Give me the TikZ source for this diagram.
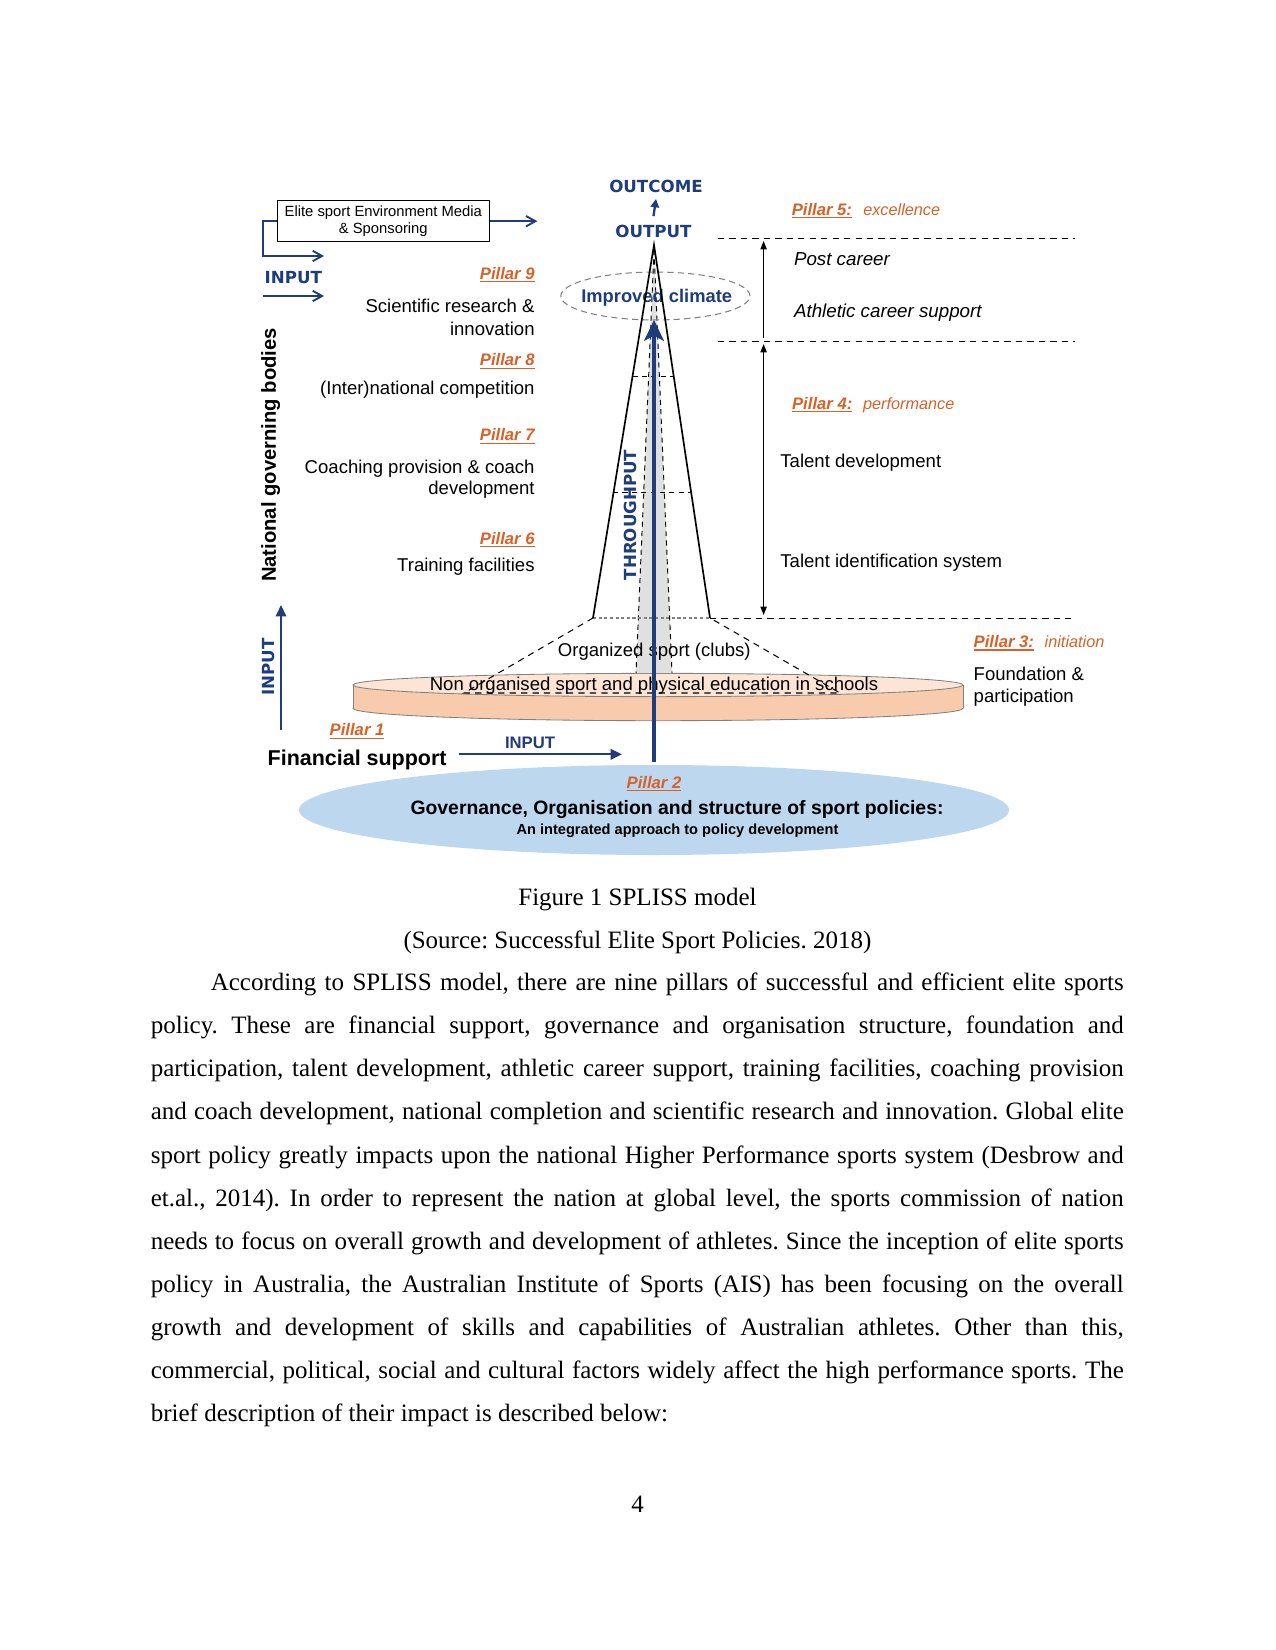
\documentclass[tikz,border=0pt]{standalone}
\usepackage{fontspec}
\setmainfont{Liberation Serif}
\newfontfamily\lsans{Liberation Sans}
\newfontfamily\dvs{DejaVu Sans}
\usetikzlibrary{arrows.meta}
\frenchspacing

\definecolor{navy}{RGB}{31,61,122}
\definecolor{pillarorange}{RGB}{214,98,42}
\definecolor{diskside}{RGB}{248,203,172}
\definecolor{disktop}{RGB}{252,229,212}
\definecolor{govblue}{RGB}{189,215,238}
\definecolor{conegrey}{RGB}{224,224,224}

\newcommand\pul[1]{\setbox0=\hbox{#1}\rlap{\rule[-1.6pt]{\wd0}{0.75pt}}\box0}

\tikzset{
  txt/.style={inner sep=0pt, yshift=-1.2pt, font=\lsans\fontsize{8.9}{10.7}\selectfont},
  txtit/.style={inner sep=0pt, yshift=-1.2pt, font=\lsans\itshape\fontsize{9}{10.8}\selectfont},
  pill/.style={inner sep=0pt, yshift=-0.5pt, text=pillarorange, font=\lsans\bfseries\itshape\fontsize{8}{9.6}\selectfont},
  pilld/.style={inner sep=0pt, yshift=-0.5pt, text=pillarorange, font=\lsans\itshape\fontsize{7.8}{9.4}\selectfont},
  bcap/.style={inner sep=0pt, text=navy, font=\dvs\bfseries\fontsize{8}{9.6}\selectfont},
  bodyline/.style={inner sep=0pt, anchor=base west, font=\fontsize{12}{14}\selectfont},
  centerline/.style={inner sep=0pt, anchor=base, font=\fontsize{12}{14}\selectfont},
  barrow/.style={navy, line width=0.9pt, -{Straight Barb[length=4.5pt,width=5pt]}},
  farrow/.style={navy, line width=1.1pt, -{Triangle[length=5.5pt,width=5pt]}},
  karrow/.style={line width=0.6pt, -{Triangle[length=4pt,width=3pt]}},
  kdarrow/.style={line width=0.6pt, {Triangle[length=4pt,width=3pt]}-{Triangle[length=4pt,width=3pt]}},
  dashline/.style={dash pattern=on 3pt off 2.5pt, line width=0.5pt},
}

\begin{document}
\begin{tikzpicture}[x=0.48pt,y=-0.48pt]
\fill[white] (0,0) rectangle (1275,1650);
\useasboundingbox (0,0) rectangle (1275,1650);

% ---------- governance ellipse (pillar 2)
\fill[govblue] (654,810) ellipse [x radius=170.4pt, y radius=21.6pt];

% ---------- foundation disk
\draw[gray, line width=0.4pt, fill=diskside] (658,708.3) ellipse [x radius=146.4pt, y radius=5.95pt];
\fill[diskside] (353,685) rectangle (963,708.3);
\draw[gray, line width=0.4pt] (353,685) -- (353,708.3) (963,685) -- (963,708.3);
\draw[gray, line width=0.4pt, fill=disktop] (658,685) ellipse [x radius=146.4pt, y radius=5.6pt];

% ---------- inner grey cone
\coordinate (apex) at (654,245);
\coordinate (iapex) at (654,250);
\coordinate (ibl) at (636,673);
\coordinate (ibr) at (672,673);
\fill[conegrey] (iapex) -- (ibl) -- (ibr) -- cycle;
\draw[dash pattern=on 2.5pt off 2pt, line width=0.45pt] (iapex) -- (ibl) (iapex) -- (ibr);

% ---------- cone base, trapezoid (organized sport)
\coordinate (cbl) at (593,618);
\coordinate (cbr) at (710,618);
\coordinate (tbl) at (464,693);
\coordinate (tbr) at (840,693);
\coordinate (r3) at (1075,618);
\draw[dashline] (cbl) -- (tbl) -- (tbr) -- (cbr);
\draw[gray, dash pattern=on 1.5pt off 1.2pt, line width=0.5pt] (cbl) -- (cbr);
\draw[dash pattern=on 3pt off 2.5pt, line width=0.45pt] (cbr) -- (r3);

% ---------- improved climate ellipse
\draw[gray, dash pattern=on 3pt off 2pt, line width=0.5pt] (655.4,296) ellipse [x radius=45.4pt, y radius=11.5pt];
\node[inner sep=0pt, text=navy, font=\lsans\bfseries\fontsize{8.8}{10}\selectfont] (clim) at (656.7,298) {Improved climate};

% ---------- outer cone
\draw[line width=0.8pt] (cbl) -- (apex) -- (cbr);
\coordinate (c1l) at (632.5,376.7); \coordinate (c1r) at (673.8,376.7);
\coordinate (c2l) at (613,492.7);   \coordinate (c2r) at (691,492.7);
\draw[dash pattern=on 2.5pt off 2pt, line width=0.45pt] (c1l) -- (c1r) (c2l) -- (c2r);

% ---------- right levels
\coordinate (r1a) at (718,238.3); \coordinate (r1b) at (1075,238.3);
\coordinate (r2a) at (718,341.5); \coordinate (r2b) at (1075,341.5);
\draw[dashline] (r1a) -- (r1b);
\draw[dashline] (r2a) -- (r2b);
\coordinate (va1) at (763.6,338); \coordinate (va2) at (763.6,241);
\coordinate (vb1) at (763.6,344); \coordinate (vb2) at (763.6,615);
\draw[karrow] (va1) -- (va2);
\draw[kdarrow] (vb1) -- (vb2);

% ---------- outcome / output
\node[bcap] (outc) at (656,186) {OUTCOME};
\node[bcap] (out) at (653.5,231) {OUTPUT};
\draw[navy, line width=1.1pt, -{Triangle[length=4pt,width=4pt]}] ([yshift=3.9pt]out.north) -- ([yshift=-3pt]outc.south);

% ---------- top-left box and input arrows
\node[draw, line width=0.5pt, minimum width=101.8pt, minimum height=19.7pt, inner sep=0pt, align=center,
      font=\lsans\fontsize{7.1}{8.6}\selectfont] (elite) at (383.3,221.2) {Elite sport Environment Media\\\& Sponsoring};
\coordinate (eliteout) at (537.3,221.2);
\coordinate (brk) at (263.3,221.2);
\coordinate (inarr1) at (324,256);
\draw[barrow] (elite.east) -- (eliteout);
\draw[barrow] (elite.west) -- (brk) |- (inarr1);
\node[bcap] (input1) at (293.3,277.3) {INPUT};
\coordinate (in2s) at (263.3,296); \coordinate (in2e) at (324,296);
\draw[barrow] (in2s) -- (in2e);

% ---------- left vertical labels
\node[rotate=90, inner sep=0pt, font=\lsans\bfseries\fontsize{9.7}{11}\selectfont] (ngb) at (270.7,455) {National governing bodies};
\coordinate (vin1) at (281,730); \coordinate (vin2) at (281,605);
\draw[farrow] (vin1) -- (vin2);
\node[bcap, rotate=90] (input2) at (268.3,667) {INPUT};

% ---------- left pillars
\node[pill, anchor=mid east] (p9) at (535,273.3) {\pul{Pillar 9}};
\node[txt, anchor=mid east] (p9a) at (535,305.7) {Scientific research \&};
\node[txt, anchor=mid east] (p9b) at (535,328.3) {innovation};
\node[pill, anchor=mid east] (p8) at (535,360) {\pul{Pillar 8}};
\node[txt, anchor=mid east] (p8a) at (535,387.7) {(Inter)national competition};
\node[pill, anchor=mid east] (p7) at (535,435) {\pul{Pillar 7}};
\node[txt, anchor=mid east] (p7a) at (535,466) {Coaching provision \& coach};
\node[txt, anchor=mid east] (p7b) at (535,487) {development};
\node[pill, anchor=mid east] (p6) at (535,538.3) {\pul{Pillar 6}};
\node[txt, anchor=mid east] (p6a) at (535,564) {Training facilities};

% ---------- right pillars
\node[pill, anchor=mid west] (p5) at (791.4,209.3) {\pul{Pillar 5:}};
\node[pilld, anchor=mid west] (p5d) at (862.9,209.3) {excellence};
\node[txtit, anchor=mid west] (p5a) at (793.6,258.3) {Post career};
\node[txtit, anchor=mid west] (p5b) at (793.6,310) {Athletic career support};
\node[pill, anchor=mid west] (p4) at (791.7,403.3) {\pul{Pillar 4:}};
\node[pilld, anchor=mid west] (p4d) at (862.7,403.3) {performance};
\node[txt, anchor=mid west] (p4a) at (780,460) {Talent development};
\node[txt, anchor=mid west] (p4b) at (780,560) {Talent identification system};
\node[pill, anchor=mid west] (p3) at (973.3,641.7) {\pul{Pillar 3:}};
\node[pilld, anchor=mid west] (p3d) at (1044.3,641.7) {initiation};
\node[txt, anchor=mid west] (p3a) at (973.3,673.3) {Foundation \&};
\node[txt, anchor=mid west] (p3b) at (973.3,695) {participation};

% ---------- base texts
\node[txt] (org) at (654.3,649.3) {Organized sport (clubs)};
\node[txt] (nonorg) at (654,683.3) {Non organised sport and physical education in schools};
\node[bcap, rotate=90] (thr) at (630.7,515) {THROUGHPUT};

% ---------- pillar 1
\node[pill, anchor=mid west] (p1) at (329.3,730) {\pul{Pillar 1}};
\node[inner sep=0pt, anchor=mid west, font=\lsans\bfseries\fontsize{10.3}{12}\selectfont] (fin) at (267.3,760.5) {Financial support};
\node[inner sep=0pt, text=navy, font=\lsans\bfseries\fontsize{8}{9.6}\selectfont] (input3) at (530,742.5) {INPUT};
\coordinate (hin1) at (459,754.3); \coordinate (hin2) at (622,754.3);
\draw[farrow] (hin1) -- (hin2);

% ---------- pillar 2 texts
\node[pill] (p2) at (654,782.7) {\pul{Pillar 2}};
\node[inner sep=0pt, font=\lsans\bfseries\fontsize{9.3}{11}\selectfont] (gov) at (677,809.5) {Governance, Organisation and structure of sport policies:};
\node[inner sep=0pt, font=\lsans\bfseries\fontsize{7}{8.4}\selectfont] (govsub) at (677.5,830.5) {An integrated approach to policy development};

% ---------- throughput arrow
\coordinate (thrb) at (654,761.7); \coordinate (thrt) at (654,320);
\draw[navy, line width=1.7pt, -{Stealth[length=10pt,width=9.5pt,inset=2.5pt]}] (thrb) -- (thrt);

% ---------- caption and body text
\node[centerline] (cap1) at (637.5,905) {Figure 1 SPLISS model};
\node[centerline] (cap2) at (637.5,948) {(Source: Successful Elite Sport Policies. 2018)};

\node[bodyline] (l1) at (210.4,990.5) {\makebox[438.2pt][s]{According to SPLISS model, there are nine pillars of successful and efficient elite sports}};
\node[bodyline] (l2) at (150.4,1033.6) {\makebox[467pt][s]{policy. These are financial support, governance and organisation structure, foundation and}};
\node[bodyline] (l3) at (150.4,1076.8) {\makebox[467pt][s]{participation, talent development, athletic career support, training facilities, coaching provision}};
\node[bodyline] (l4) at (150.4,1119.9) {\makebox[467pt][s]{and coach development, national completion and scientific research and innovation. Global elite}};
\node[bodyline] (l5) at (150.4,1163.0) {\makebox[467pt][s]{sport policy greatly impacts upon the national Higher Performance sports system (Desbrow and}};
\node[bodyline] (l6) at (150.4,1206.2) {\makebox[467pt][s]{et.al., 2014). In order to represent the nation at global level, the sports commission of nation}};
\node[bodyline] (l7) at (150.4,1249.3) {\makebox[467pt][s]{needs to focus on overall growth and development of athletes. Since the inception of elite sports}};
\node[bodyline] (l8) at (150.4,1292.4) {\makebox[467pt][s]{policy in Australia, the Australian Institute of Sports (AIS) has been focusing on the overall}};
\node[bodyline] (l9) at (150.4,1335.5) {\makebox[467pt][s]{growth and development of skills and capabilities of Australian athletes. Other than this,}};
\node[bodyline] (l10) at (150.4,1378.7) {\makebox[467pt][s]{commercial, political, social and cultural factors widely affect the high performance sports. The}};
\node[bodyline] (l11) at (150.4,1421.8) {brief description of their impact is described below:};

\node[centerline] (pg) at (637.5,1512) {4};
\end{tikzpicture}
\end{document}
